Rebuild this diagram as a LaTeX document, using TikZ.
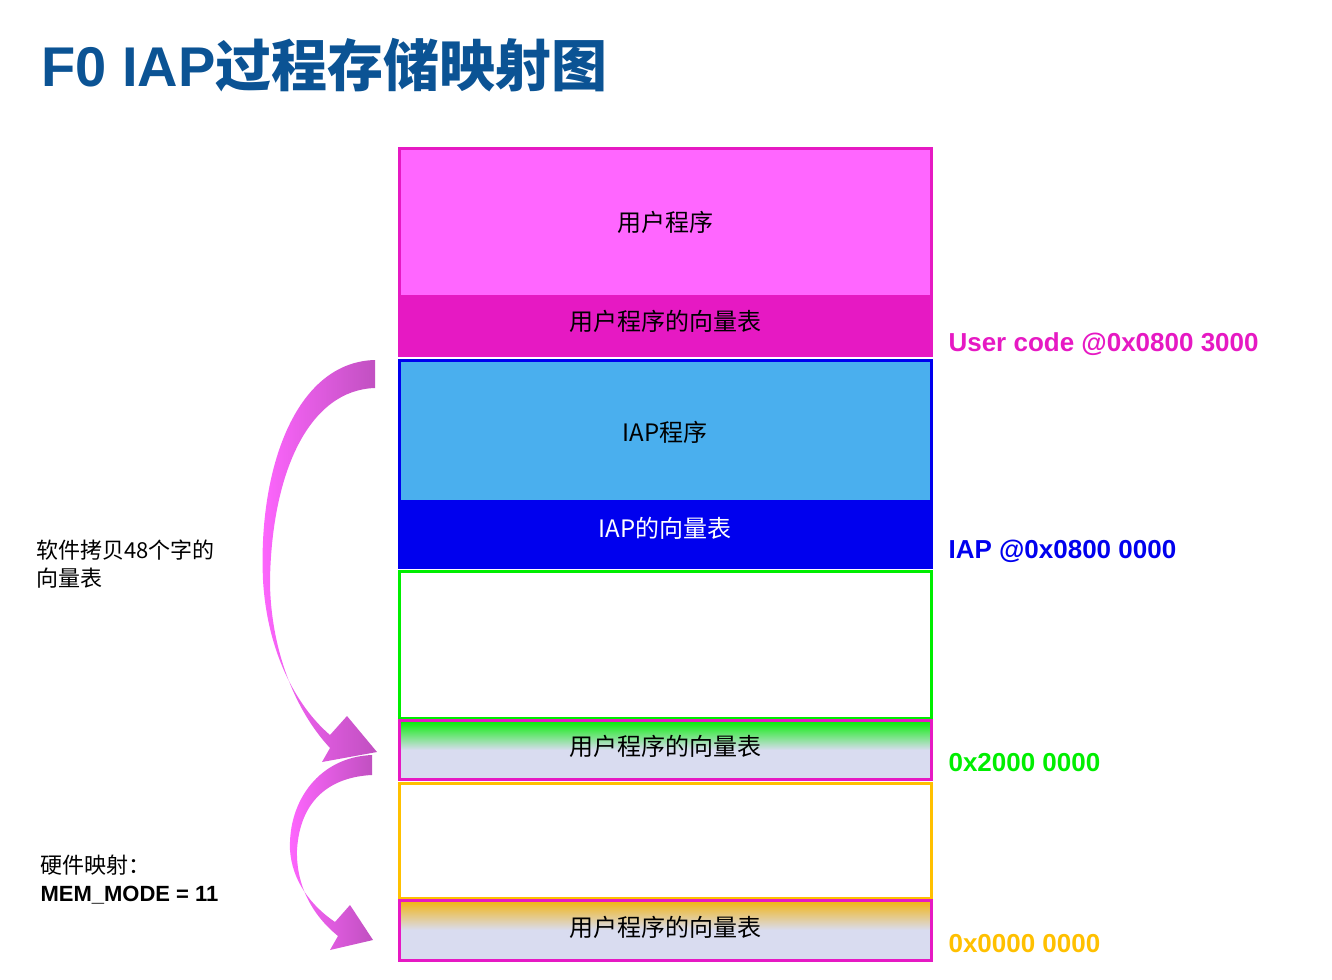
\documentclass[tikz,border=0pt]{standalone}
\usepackage{fontspec}
\setmainfont{Liberation Sans}
\newfontfamily\cjk{Noto Sans CJK SC}
\definecolor{mag}{HTML}{E619C3}
\definecolor{lpink}{HTML}{FF66FF}
\definecolor{lblue}{HTML}{4AAFEE}
\definecolor{dblue}{HTML}{0000EE}
\definecolor{grn}{HTML}{00EE00}
\definecolor{orng}{HTML}{FFC000}
\definecolor{lav}{HTML}{D9DCF0}
\definecolor{ttl}{HTML}{0B5394}
\definecolor{purp}{HTML}{C050C0}
\tikzset{
 lbl/.style={font=\cjk\fontsize{24}{28}\selectfont, anchor=center},
 addr/.style={font=\bfseries\fontsize{26}{30}\selectfont, anchor=west},
 side/.style={font=\cjk\fontsize{22}{28}\selectfont, anchor=west, align=left},
}
\begin{document}
\begin{tikzpicture}[x=1pt,y=-1pt]
\useasboundingbox (0,0) rectangle (1332,979);
\node[anchor=west, text=ttl, font=\bfseries\fontsize{56}{60}\selectfont] (title) at (38,65) {F0 IAP{\cjk 过程存储映射图}};
% top block
\fill[lpink] (399,148) rectangle (931,295);
\fill[mag] (399,295) rectangle (931,355);
\draw[mag, line width=3] (399,148) rectangle (931,355);
\node[lbl] (u1) at (665,222) {用户程序};
\node[lbl] (u2) at (665,321) {用户程序的向量表};
% IAP block
\fill[lblue] (399,360) rectangle (931,500);
\fill[dblue] (399,500) rectangle (931,567);
\draw[dblue, line width=3] (399,360) rectangle (931,567);
\node[lbl] (i1) at (665,432) {IAP程序};
\node[lbl, text=white] (i2) at (665,528) {IAP的向量表};
% green
\draw[grn, line width=3] (399,571) rectangle (931,718);
\shade[top color=grn, bottom color=lav, middle color=lav!80!white, shading angle=0] (399,720) rectangle (931,779);
\shade[top color=grn, bottom color=lav] (399,720) rectangle (931,750);
\fill[lav] (399,750) rectangle (931,779);
\draw[mag, line width=3] (399,720) rectangle (931,779);
\node[lbl] (g1) at (665,746) {用户程序的向量表};
% orange
\draw[orng, line width=3] (399,783) rectangle (931,898);
\shade[top color=orng!80!brown, bottom color=lav] (399,900) rectangle (931,930);
\fill[lav] (399,930) rectangle (931,960);
\draw[mag, line width=3] (399,900) rectangle (931,960);
\node[lbl] (o1) at (665,927) {用户程序的向量表};
% addresses
\node[addr, text=mag] (a1) at (945,344) {User code @0x0800 3000};
\node[addr, text=dblue] (a2) at (945,551) {IAP @0x0800 0000};
\node[addr, text=grn] (a3) at (945,763) {0x2000 0000};
\node[addr, text=orng] (a4) at (945,944) {0x0000 0000};
% side texts
\node[side] (s1) at (33,564) {软件拷贝48个字的\\向量表};
\node[side, font=\fontsize{22}{28}\selectfont] (s2) at (37,880) {{\cjk 硬件映射：}\\\bfseries MEM\_MODE = 11};
% big arrow
\shade[left color=lpink, right color=purp, shading angle=90]
 (375,360) .. controls (295,362) and (258,470) .. (263,580)
 .. controls (267,650) and (295,705) .. (330,735) -- (347,716) -- (377,752) -- (322,762) -- (330,748)
 .. controls (290,705) and (270,640) .. (270,580)
 .. controls (272,470) and (310,390) .. (375,388) -- cycle;
% small arrow
\shade[left color=lpink, right color=purp, shading angle=90]
 (372,755) .. controls (320,757) and (288,800) .. (290,850)
 .. controls (292,880) and (310,905) .. (335,922) -- (350,905) -- (373,940) -- (330,950) -- (338,936)
 .. controls (312,915) and (296,885) .. (297,850)
 .. controls (300,800) and (330,777) .. (372,775) -- cycle;
\end{tikzpicture}
\end{document}
